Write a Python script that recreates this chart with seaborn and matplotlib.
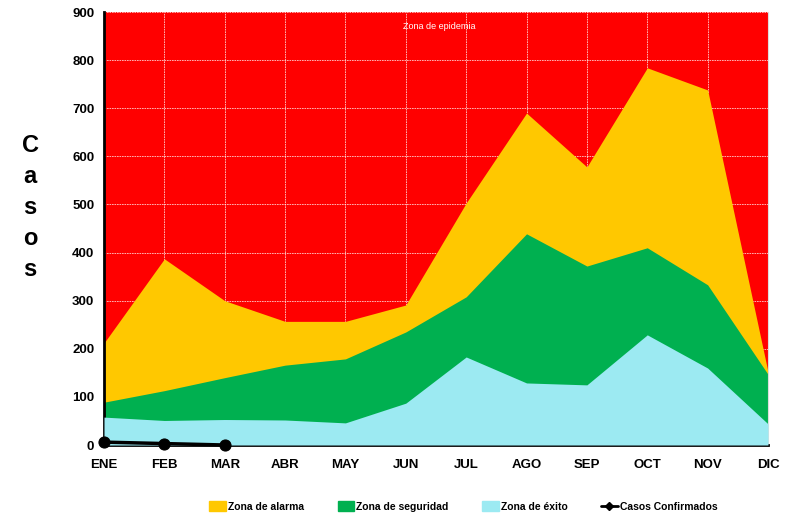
import matplotlib
matplotlib.use("Agg")
import matplotlib.pyplot as plt
import matplotlib.patches as mpatches
import matplotlib.lines as mlines
import numpy as np
import pandas as pd
import seaborn as sns

meses = ["ENE", "FEB", "MAR", "ABR", "MAY", "JUN", "JUL", "AGO", "SEP", "OCT", "NOV", "DIC"]
zona_alarma = [212, 387, 300, 257, 257, 291, 503, 690, 578, 784, 738, 152]
zona_seguridad = [89, 113, 140, 166, 179, 235, 308, 439, 372, 410, 333, 147]
zona_exito = [58, 51, 53, 52, 46, 87, 183, 129, 125, 229, 160, 44]
casos_meses = ["ENE", "FEB", "MAR"]
casos_confirmados = [6, 3, 0]

sns.set_style("white")
plt.rcParams["font.family"] = ["Liberation Sans", "DejaVu Sans"]
plt.rcParams["text.color"] = "black"
plt.rcParams["xtick.color"] = "black"
plt.rcParams["ytick.color"] = "black"

fig = plt.figure(figsize=(7.92, 5.18), dpi=100)
ax = fig.add_axes([0.1313, 0.1409, 0.8384, 0.8359])

x = np.arange(len(meses))
ax.set_facecolor("#FF0000")
ax.fill_between(x, 0, zona_alarma, color="#FFC800", linewidth=0, zorder=1)
ax.fill_between(x, 0, zona_seguridad, color="#00B050", linewidth=0, zorder=2)
ax.fill_between(x, 0, zona_exito, color="#9CEAF2", linewidth=0, zorder=3)

df = pd.DataFrame({"mes": [meses.index(m) for m in casos_meses], "casos": casos_confirmados})
sns.lineplot(data=df, x="mes", y="casos", ax=ax, color="black", linewidth=2.5,
             marker="o", markersize=8, markeredgecolor="black", zorder=5, clip_on=False)

ax.set_xlim(0, 11)
ax.set_ylim(0, 900)
ax.set_xticks(x)
ax.set_xticklabels(meses)
ax.set_yticks(range(0, 901, 100))
ax.set_xlabel("")
ax.set_ylabel("")
ax.set_axisbelow(True)
ax.grid(True, color="white", linestyle=(0, (2, 1)), linewidth=0.6, alpha=0.8)

for lab in ax.get_xticklabels() + ax.get_yticklabels():
    lab.set_fontweight("bold")
    lab.set_fontsize(9.5)
    lab.set_color("black")
ax.tick_params(axis="both", direction="out", length=4, width=1.2, color="black", pad=3)
ax.tick_params(axis="x", pad=6)

ax.spines["left"].set_linewidth(2)
ax.spines["left"].set_color("black")
ax.spines["bottom"].set_linewidth(2)
ax.spines["bottom"].set_color("black")
ax.spines["top"].set_visible(False)
ax.spines["right"].set_color("#DDDDDD")
ax.spines["right"].set_linewidth(0.8)

ax.text(5.55, 869, "Zona de epidemia", color="white", fontsize=6.5, ha="center", va="center")

fig.text(0.038, 0.60, "C\na\ns\no\ns", fontsize=17, fontweight="bold", color="black",
         ha="center", va="center", linespacing=1.45)

handles = [
    mpatches.Patch(color="#FFC800", label="Zona de alarma"),
    mpatches.Patch(color="#00B050", label="Zona de seguridad"),
    mpatches.Patch(color="#9CEAF2", label="Zona de éxito"),
    mlines.Line2D([], [], color="black", linewidth=2, marker="D", markersize=4, label="Casos Confirmados"),
]
leg = fig.legend(handles=handles, loc="center", bbox_to_anchor=(0.585, 0.022), ncol=4, frameon=False,
                 handlelength=1.6, handleheight=1.0, handletextpad=0.2, columnspacing=3.2,
                 prop={"weight": "bold", "size": 7.5})
for t in leg.get_texts():
    t.set_color("black")

fig.savefig("out.png", dpi=100)
